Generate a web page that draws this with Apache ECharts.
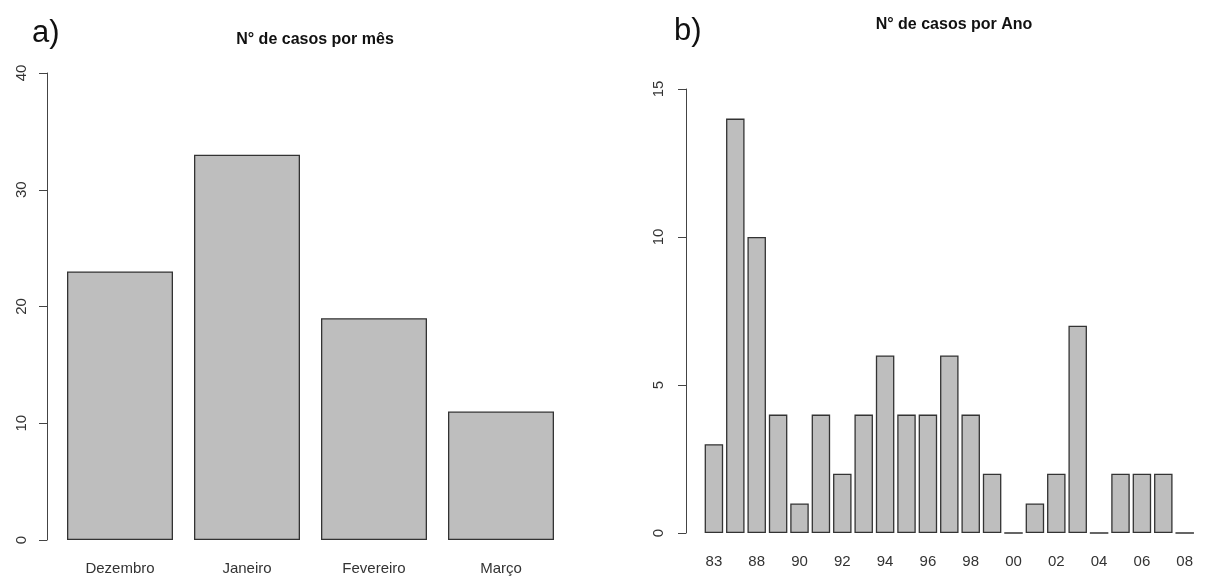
<!DOCTYPE html>
<html><head><meta charset="utf-8">
<script src="https://cdn.jsdelivr.net/npm/echarts@6/dist/echarts.min.js"></script>
<style>html,body{margin:0;padding:0;background:#fff}#c{width:1206px;height:576px}</style>
</head><body><div id="c"></div>
<script>
const monthCategories = ['Dezembro', 'Janeiro', 'Fevereiro', 'Março'];
const monthValues = [23, 33, 19, 11];
const monthTicks = [0, 10, 20, 30, 40];

const yearCategories = ['83','87','88','89','90','91','92','93','94','95','96','97','98','99','00','01','02','03','04','05','06','07','08'];
const yearValues = [3, 14, 10, 4, 1, 4, 2, 4, 6, 4, 4, 6, 4, 2, 0, 1, 2, 7, 0, 2, 2, 2, 0];
const yearTicks = [0, 5, 10, 15];

const titleA = 'N° de casos por mês';
const titleB = 'N° de casos por Ano';

const FONT = '"Liberation Sans", Arial, sans-serif';
const chart = echarts.init(document.getElementById('c'), null, {renderer: 'canvas'});

function yAx(gridIndex, max, interval, offset, margin) {
  return {
    type: 'value', gridIndex, min: 0, max, interval, offset,
    axisLine: {show: true, lineStyle: {color: '#444', width: 1}},
    axisTick: {show: true, length: 8, lineStyle: {color: '#444'}},
    splitLine: {show: false},
    axisLabel: {rotate: 90, margin, fontSize: 15, color: '#333', fontFamily: FONT}
  };
}
function xAx(gridIndex, data, interval, margin) {
  return {
    type: 'category', gridIndex, data,
    axisLine: {show: false}, axisTick: {show: false},
    axisLabel: {interval, margin, fontSize: 15, color: '#333', fontFamily: FONT}
  };
}
const barStyle = {color: '#bebebe', borderColor: '#333', borderWidth: 1.3};

chart.setOption({
  animation: false,
  backgroundColor: '#fff',
  title: [
    {text: titleA, left: 310, top: 27, textAlign: 'center',
     textStyle: {fontSize: 16, fontWeight: 'bold', color: '#111', fontFamily: FONT}},
    {text: titleB, left: 949, top: 12, textAlign: 'center',
     textStyle: {fontSize: 16, fontWeight: 'bold', color: '#111', fontFamily: FONT}},
    {text: 'a)', left: 27, top: 13, textStyle: {fontSize: 31, fontWeight: 'normal', color: '#111', fontFamily: FONT}},
    {text: 'b)', left: 669, top: 11, textStyle: {fontSize: 31, fontWeight: 'normal', color: '#111', fontFamily: FONT}}
  ],
  grid: [
    {left: 56.5, top: 73, width: 508, height: 468.5},
    {left: 703.2, top: 89, width: 492.2, height: 444}
  ],
  xAxis: [xAx(0, monthCategories, 0, 21), xAx(1, yearCategories, 1, 21)],
  yAxis: [yAx(0, monthTicks[monthTicks.length-1], monthTicks[1]-monthTicks[0], 9.5, 18),
          yAx(1, yearTicks[yearTicks.length-1], yearTicks[1]-yearTicks[0], 17.2, 20)],
  series: [
    {type: 'bar', xAxisIndex: 0, yAxisIndex: 0, data: monthValues, barWidth: 106, itemStyle: barStyle, silent: true},
    {type: 'bar', xAxisIndex: 1, yAxisIndex: 1, data: yearValues, barWidth: 18.5, itemStyle: barStyle, silent: true}
  ]
});
</script></body></html>
